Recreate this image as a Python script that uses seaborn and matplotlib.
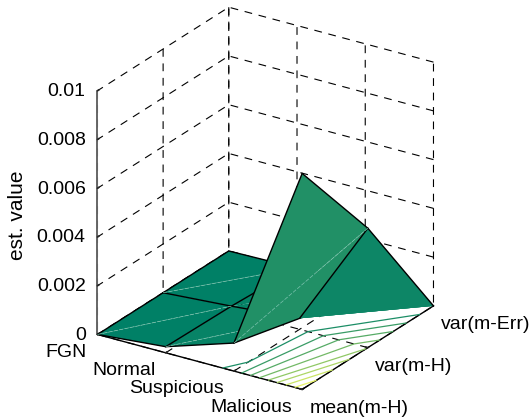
import numpy as np
import matplotlib
matplotlib.use("Agg")
import matplotlib.pyplot as plt
import seaborn as sns

sns.set_theme(style="white")
plt.rcParams["font.family"] = ["Liberation Sans", "DejaVu Sans"]

x_labels = ["FGN", "Normal", "Suspicious", "Malicious"]
y_labels = ["mean(m-H)", "var(m-H)", "var(m-Err)"]
z_ticks = [0, 0.002, 0.004, 0.006, 0.008, 0.01]
z_labels = ["0", "0.002", "0.004", "0.006", "0.008", "0.01"]

# rows = x categories, columns = y categories
fgn = [0.0, 0.0, 0.0]
normal = [0.00025, 0.0002, 0.00005]
suspicious = [0.00115, 0.00045, 0.0001]
malicious = [0.00886, 0.0049, 0.0]

Z = np.array([fgn, normal, suspicious, malicious])
xi = np.arange(len(x_labels))
yi = np.arange(len(y_labels))
X, Y = np.meshgrid(xi, yi, indexing="ij")

cmap = sns.color_palette("summer", as_cmap=True)
norm = plt.Normalize(0, Z.max())

fig = plt.figure(figsize=(5.32, 4.17), dpi=100)
# 3d axes get squared up, so make the square as wide as the figure
ax = fig.add_axes([-0.0145, -0.1307, 1.0, 1.2758], projection="3d", proj_type="ortho", computed_zorder=False)
ax.view_init(elev=24.4, azim=-57)
ax.set_box_aspect((243.5, 240.5, 267), zoom=0.794)
ax.patch.set_alpha(0)


def vid(i, j):
    return i * len(yi) + j


def draw_faces(cells, zo):
    # every cell is split along the same diagonal, flat colour from its first corner
    tris, cols = [], []
    for i, j in cells:
        tris += [[vid(i, j), vid(i + 1, j), vid(i + 1, j + 1)], [vid(i, j), vid(i + 1, j + 1), vid(i, j + 1)]]
        cols += [cmap(norm(Z[i, j]))] * 2
    surf = ax.plot_trisurf(X.ravel(), Y.ravel(), Z.ravel(), triangles=tris, shade=False, linewidth=0, zorder=zo)
    surf.set_facecolor(cols)


ax.contour(X, Y, Z, levels=np.arange(0.001, 0.0085, 0.001), zdir="z", offset=0, cmap=cmap, vmin=0, vmax=Z.max(), linewidths=0.9, zorder=1)

draw_faces([(0, 0), (0, 1), (1, 0), (1, 1), (2, 1)], 2)
draw_faces([(2, 0), (2, 1)], 5)

front = {(2, 0, 3, 0), (3, 0, 3, 1), (3, 1, 3, 2), (2, 0, 2, 1), (2, 1, 3, 1)}
for i in xi:
    for j in yi:
        for i2, j2 in ((i + 1, j), (i, j + 1)):
            if i2 < len(xi) and j2 < len(yi):
                zo = 6 if (i, j, i2, j2) in front else 3
                ax.plot([i, i2], [j, j2], [Z[i, j], Z[i2, j2]], color="black", lw=1.0, zorder=zo)

# faint seams on the diagonals
for i, j, zo in [(0, 0, 4), (0, 1, 4), (1, 0, 4), (2, 0, 6)]:
    ax.plot([i, i + 1], [j, j + 1], [Z[i, j], Z[i + 1, j + 1]], color="#7fc4ae", lw=0.5, ls=(0, (6, 2)), zorder=zo)

ax.set_xlim(0, 3, view_margin=0)
ax.set_ylim(0, 2, view_margin=0)
ax.set_zlim(0, 0.01, view_margin=0)
ax.set_xticks(xi)
ax.set_xticklabels(x_labels, ha="right", va="bottom")
ax.set_yticks(yi)
ax.set_yticklabels(y_labels, ha="left", va="top")
ax.set_zticks(z_ticks)
ax.set_zticklabels(z_labels, ha="right", va="center")
ax.zaxis.set_ticks_position("lower")
ax.zaxis.set_label_position("lower")
ax.tick_params(axis="x", pad=8, labelsize=14, labelcolor="black")
ax.tick_params(axis="y", pad=-1, labelsize=14, labelcolor="black")
ax.tick_params(axis="z", pad=-1, labelsize=14, labelcolor="black")

for axis in (ax.xaxis, ax.yaxis, ax.zaxis):
    axis.set_pane_color((1, 1, 1, 0))
    axis.pane.set_edgecolor((1, 1, 1, 0))
    axis.line.set_color("black")
    axis.line.set_linewidth(1.0)
    axis._axinfo["grid"].update(color="black", linewidth=0.8, linestyle=(0, (7, 6)))
    axis._axinfo["tick"].update(inward_factor=0.0, outward_factor=0.15)
ax.zaxis.line.set_color("#666666")
ax.zaxis.line.set_linewidth(1.4)

fig.text(0.032, 0.484, "est. value", rotation=90, fontsize=15, color="black", ha="center", va="center")

fig.savefig("out.png", dpi=100)
